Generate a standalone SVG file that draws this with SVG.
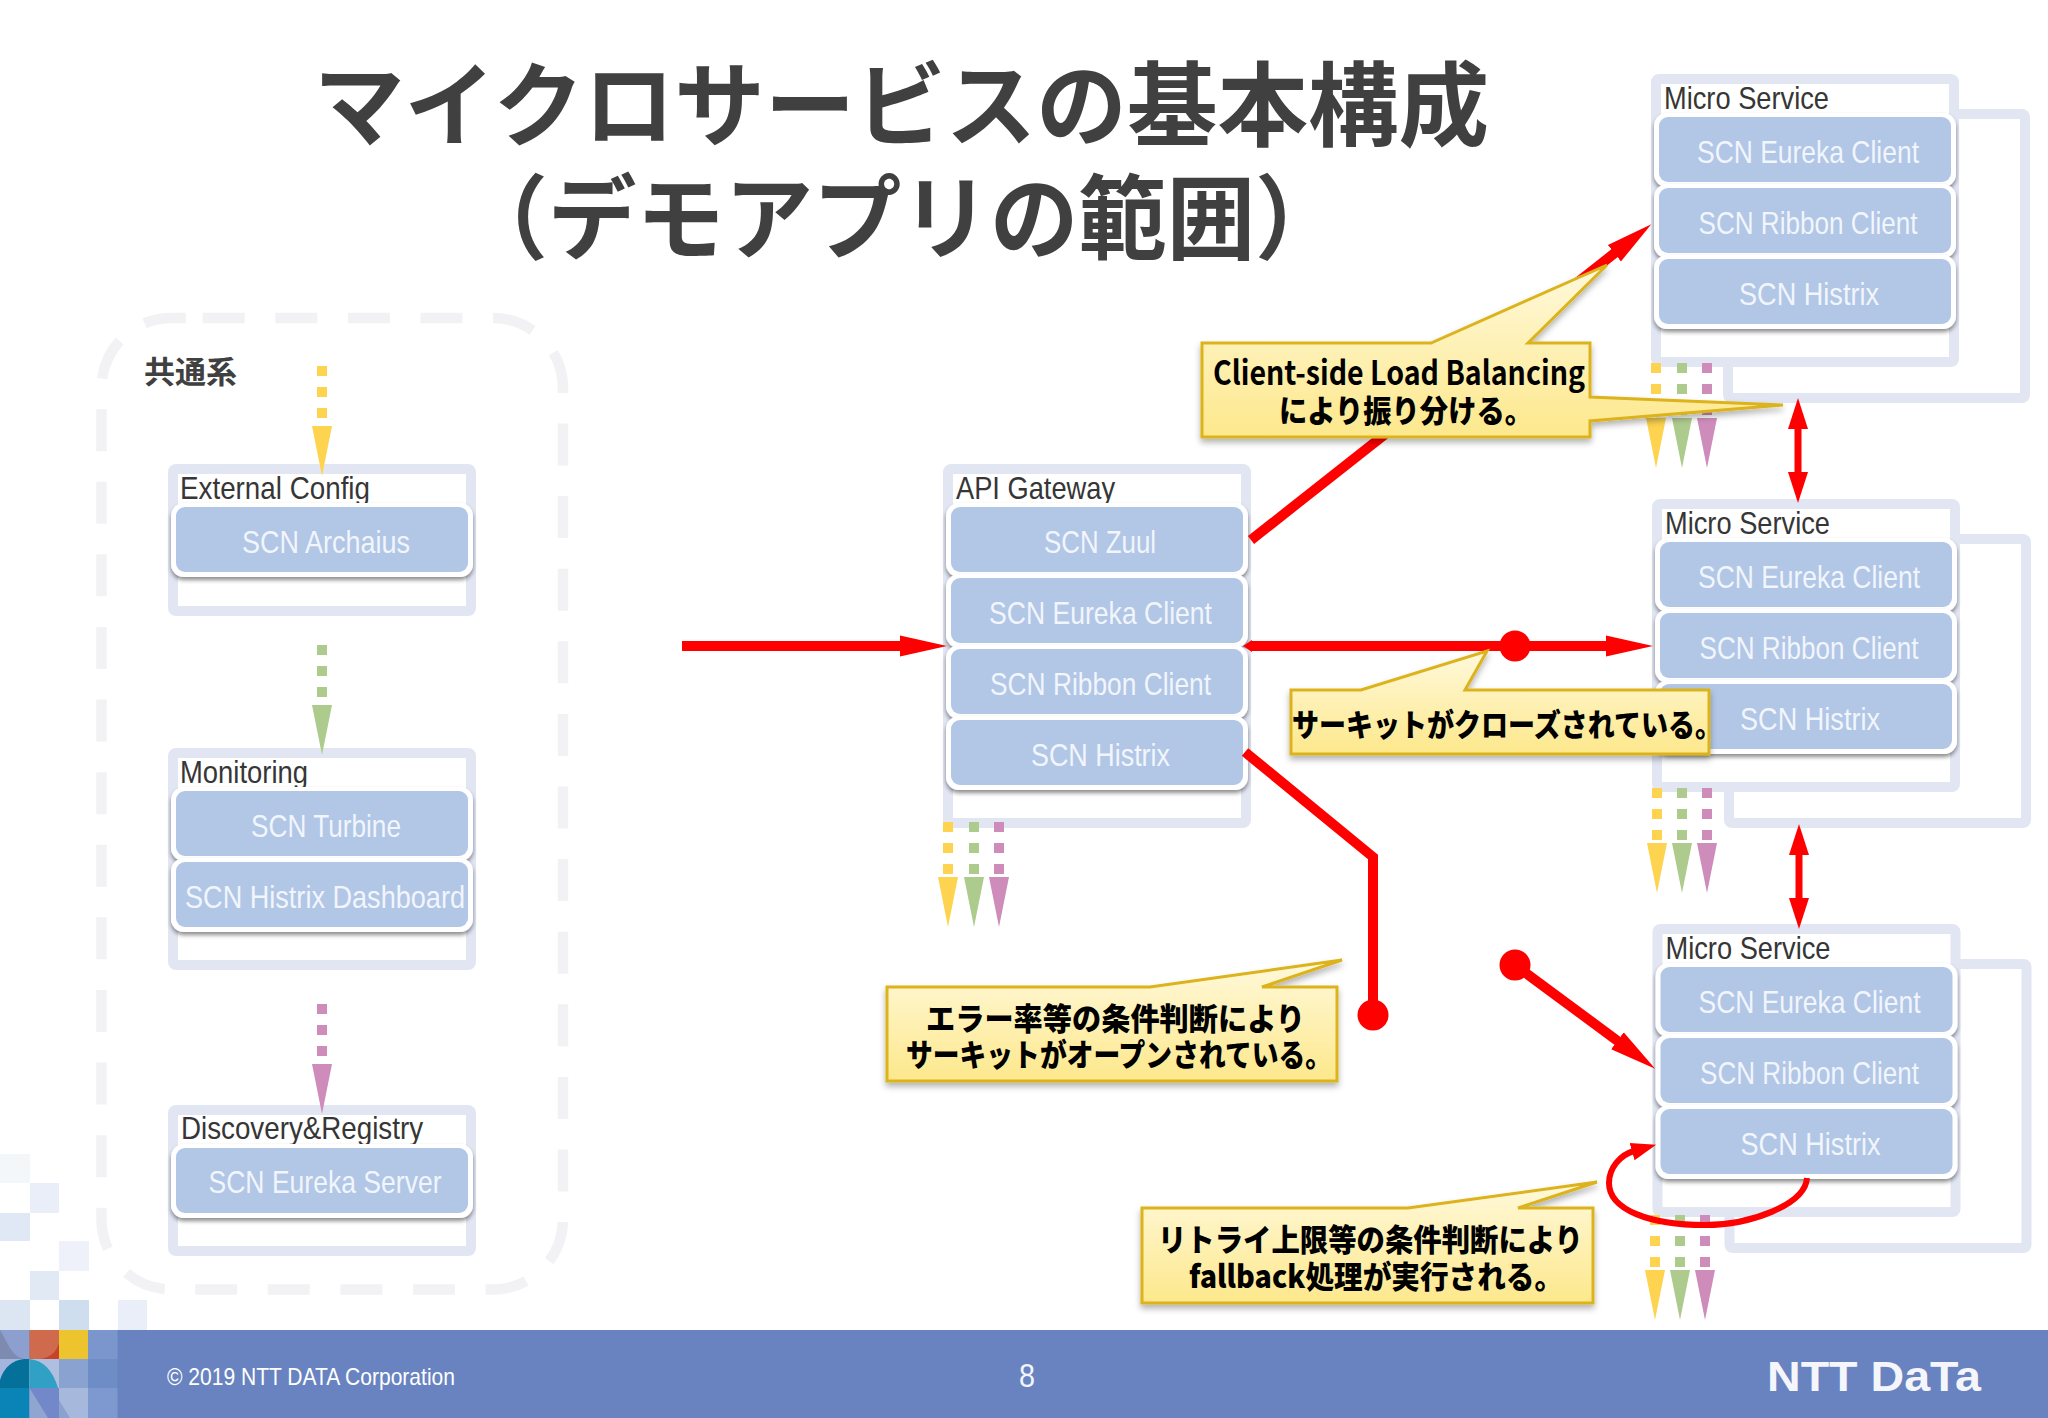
<svg xmlns="http://www.w3.org/2000/svg" width="2048" height="1418" viewBox="0 0 2048 1418">
<style>
.sans{font-family:"Liberation Sans","Noto Sans CJK JP",sans-serif}
.jp{font-family:"Noto Sans CJK JP","Liberation Sans",sans-serif}
.title{font-size:92px;font-weight:700;fill:#404040}
.box{fill:#fff;stroke:#e2e6f3;stroke-width:10}
.rowb{fill:#fff;filter:url(#sh)}
.rowf{fill:#b2c6e6}
.lbl{font-size:32px;fill:#363636}
.rowt{font-size:32px;fill:#f1f5fc}
.call{fill:url(#cg);stroke:#dcb31c;stroke-width:3;stroke-linejoin:miter;filter:url(#csh)}
.ct{font-size:31px;font-weight:900;fill:#000}
.red{fill:none;stroke:#f00;stroke-width:10}
.y{fill:#fdd34f}.g{fill:#aecb8e}.p{fill:#ce8cba}
.m{shape-rendering:crispEdges}
</style>
<defs>
<filter id="sh" x="-5%" y="-10%" width="110%" height="125%"><feDropShadow dx="0" dy="3" stdDeviation="2" flood-color="#000" flood-opacity="0.45"/></filter>
<filter id="csh" x="-5%" y="-10%" width="110%" height="125%"><feDropShadow dx="0" dy="4" stdDeviation="3" flood-color="#000" flood-opacity="0.3"/></filter>
<linearGradient id="cg" gradientUnits="objectBoundingBox" x1="0" y1="0" x2="0" y2="1"><stop offset="0" stop-color="#fff9dc"/><stop offset="1" stop-color="#fde88c"/></linearGradient>
<marker id="ah" markerUnits="userSpaceOnUse" markerWidth="50" markerHeight="24" refX="2" refY="12" orient="auto-start-reverse"><path d="M0 1.5L47 12L0 22.5z" fill="#f00"/></marker>
<marker id="ahs" markerUnits="userSpaceOnUse" markerWidth="34" markerHeight="24" refX="2" refY="12" orient="auto-start-reverse"><path d="M0 2L31 12L0 22z" fill="#f00"/></marker>
<marker id="ahc" markerUnits="userSpaceOnUse" markerWidth="30" markerHeight="22" refX="2" refY="11" orient="auto"><path d="M0 2L25 11L0 20z" fill="#f00"/></marker>
<g id="dy"><rect x="-5" y="0" width="10" height="10"/><rect x="-5" y="21" width="10" height="10"/><rect x="-5" y="42" width="10" height="10"/><path d="M-10 60H10L0 110z"/></g>
<g id="dys"><rect x="-5" y="0" width="10" height="10"/><rect x="-5" y="21" width="10" height="10"/><rect x="-5" y="42" width="10" height="10"/><path d="M-10 55H10L0 105z"/></g>
</defs>
<rect width="2048" height="1418" fill="#fff"/>

<g id="mosaic" class="m">
<rect x="0" y="1154" width="29.5" height="29" fill="#f3f7f9"/>
<rect x="29.5" y="1183" width="29" height="30" fill="#e9eef8"/>
<rect x="0" y="1213" width="29.5" height="28" fill="#dfe8f4"/>
<rect x="58.5" y="1241" width="30" height="30" fill="#eef1f9"/>
<rect x="29.5" y="1271" width="29" height="29" fill="#e1e9f5"/>
<rect x="0" y="1300" width="29.5" height="30" fill="#dce6f3"/>
<rect x="58.5" y="1300" width="30" height="30" fill="#cfdeee"/>
<rect x="117.5" y="1300" width="29.5" height="30" fill="#e9eef8"/>
</g>
<g id="footer">
<rect x="0" y="1330" width="2048" height="88" fill="#6883bf"/>
<rect x="0" y="1330" width="29.5" height="29" fill="#8c9fce"/>
<path d="M0 1330L10 1348Q17 1359 25 1359H0z" fill="#7d8bb0"/>
<rect x="29.5" y="1330" width="29.5" height="29" fill="#d06a4d"/>
<path d="M59 1343V1359H40Q55 1357 59 1343z" fill="#c8422a"/>
<rect x="59" y="1330" width="29" height="29" fill="#eec42e"/>
<rect x="88" y="1330" width="29.5" height="29" fill="#7b96cd"/>
<rect x="0" y="1359" width="29.5" height="29" fill="#a3b5dc"/>
<path d="M0 1388V1380Q6 1361 24 1359H29.5V1388z" fill="#05719b"/>
<rect x="29.5" y="1359" width="29.5" height="29" fill="#aebfe0"/>
<path d="M29.5 1359Q50 1361 58 1388H29.5z" fill="#30a0c5"/>
<rect x="59" y="1359" width="29" height="29" fill="#8aa2cf"/>
<rect x="88" y="1359" width="29.5" height="29" fill="#6e8cc5"/>
<rect x="0" y="1388" width="29.5" height="30" fill="#0a83b6"/>
<rect x="29.5" y="1388" width="29.5" height="30" fill="#7388c9"/>
<path d="M29.5 1388L48 1418H29.5z" fill="#90a6d1"/>
<rect x="59" y="1388" width="29" height="30" fill="#a6b9dd"/>
<path d="M59 1400L70 1418H59z" fill="#8aa2cf"/>
<rect x="88" y="1388" width="29.5" height="30" fill="#7e99d0"/>
<text class="sans" x="167" y="1385" font-size="24" fill="#fff" textLength="288" lengthAdjust="spacingAndGlyphs">© 2019 NTT DATA Corporation</text>
<text class="sans" x="1019" y="1387" font-size="34" fill="#f2f5fb" textLength="16" lengthAdjust="spacingAndGlyphs">8</text>
<text class="sans" x="1767" y="1391" font-size="43" font-weight="700" fill="#f4f6fb" textLength="214" lengthAdjust="spacingAndGlyphs">NTT DaTa</text>
</g>

<g id="title" class="jp title" text-anchor="middle">
<text x="901.5" y="139" textLength="1175" lengthAdjust="spacingAndGlyphs">マイクロサービスの基本構成</text>
<text x="901.5" y="252" textLength="884" lengthAdjust="spacingAndGlyphs">（デモアプリの範囲）</text>
</g>

<g id="common">
<path d="M202.7 318H493A70 70 0 0 1 563 388V1219.5A70 70 0 0 1 493 1289.5H171.5A70 70 0 0 1 101.5 1219.5V388A70 70 0 0 1 171.5 318z" fill="none" stroke="#f2f2f5" stroke-width="10.5" stroke-dasharray="42 30.6"/>
<text class="jp" x="144" y="383" font-size="31" font-weight="700" fill="#404040">共通系</text>
</g>

<g id="external-config">
<rect class="box" x="173" y="469" width="298" height="142" rx="3"/>
<text class="sans lbl" x="180" y="499" textLength="190" lengthAdjust="spacingAndGlyphs">External Config</text>
<rect class="rowb" x="171" y="503" width="302" height="74" rx="13"/><rect class="rowf" x="176" y="507" width="292" height="65" rx="9"/>
<text class="sans rowt" x="242" y="553" textLength="168" lengthAdjust="spacingAndGlyphs">SCN Archaius</text>
</g>
<g id="monitoring">
<rect class="box" x="173" y="753" width="298" height="212" rx="3"/>
<text class="sans lbl" x="180" y="783" textLength="128" lengthAdjust="spacingAndGlyphs">Monitoring</text>
<rect class="rowb" x="171" y="787" width="302" height="74" rx="13"/><rect class="rowf" x="176" y="791" width="292" height="65" rx="9"/>
<text class="sans rowt" x="251" y="837" textLength="150" lengthAdjust="spacingAndGlyphs">SCN Turbine</text>
<rect class="rowb" x="171" y="858" width="302" height="74" rx="13"/><rect class="rowf" x="176" y="862" width="292" height="65" rx="9"/>
<text class="sans rowt" x="185" y="908" textLength="280" lengthAdjust="spacingAndGlyphs">SCN Histrix Dashboard</text>
</g>
<g id="discovery-registry">
<rect class="box" x="173" y="1110" width="298" height="141" rx="3"/>
<text class="sans lbl" x="181" y="1139" textLength="242" lengthAdjust="spacingAndGlyphs">Discovery&amp;Registry</text>
<rect class="rowb" x="171" y="1144" width="302" height="74" rx="13"/><rect class="rowf" x="176" y="1148" width="292" height="65" rx="9"/>
<text class="sans rowt" x="208.5" y="1193" textLength="233" lengthAdjust="spacingAndGlyphs">SCN Eureka Server</text>
</g>
<g id="api-gateway">
<rect class="box" x="948" y="469" width="298" height="354" rx="3"/>
<text class="sans lbl" x="956" y="499" textLength="159" lengthAdjust="spacingAndGlyphs">API Gateway</text>
<rect class="rowb" x="946" y="503" width="302" height="74" rx="13"/><rect class="rowf" x="951" y="507" width="292" height="65" rx="9"/>
<text class="sans rowt" x="1044" y="553" textLength="112" lengthAdjust="spacingAndGlyphs">SCN Zuul</text>
<rect class="rowb" x="946" y="574" width="302" height="74" rx="13"/><rect class="rowf" x="951" y="578" width="292" height="65" rx="9"/>
<text class="sans rowt" x="989" y="624" textLength="223" lengthAdjust="spacingAndGlyphs">SCN Eureka Client</text>
<rect class="rowb" x="946" y="645" width="302" height="74" rx="13"/><rect class="rowf" x="951" y="649" width="292" height="65" rx="9"/>
<text class="sans rowt" x="990" y="695" textLength="221" lengthAdjust="spacingAndGlyphs">SCN Ribbon Client</text>
<rect class="rowb" x="946" y="716" width="302" height="74" rx="13"/><rect class="rowf" x="951" y="720" width="292" height="65" rx="9"/>
<text class="sans rowt" x="1031" y="766" textLength="139" lengthAdjust="spacingAndGlyphs">SCN Histrix</text>
</g>

<g id="micro-service-1">
<rect class="box" x="1728" y="114" width="297" height="284" rx="3"/>
<rect class="box" x="1656" y="79" width="298" height="283" rx="3"/>
<text class="sans lbl" x="1664" y="109" textLength="165" lengthAdjust="spacingAndGlyphs">Micro Service</text>
<rect class="rowb" x="1654" y="113" width="302" height="74" rx="13"/><rect class="rowf" x="1659" y="117" width="292" height="65" rx="9"/>
<text class="sans rowt" x="1697" y="163" textLength="222" lengthAdjust="spacingAndGlyphs">SCN Eureka Client</text>
<rect class="rowb" x="1654" y="184" width="302" height="74" rx="13"/><rect class="rowf" x="1659" y="188" width="292" height="65" rx="9"/>
<text class="sans rowt" x="1698.5" y="234" textLength="219" lengthAdjust="spacingAndGlyphs">SCN Ribbon Client</text>
<rect class="rowb" x="1654" y="255" width="302" height="74" rx="13"/><rect class="rowf" x="1659" y="259" width="292" height="65" rx="9"/>
<text class="sans rowt" x="1739" y="305" textLength="140" lengthAdjust="spacingAndGlyphs">SCN Histrix</text>
</g>
<g id="micro-service-2" transform="translate(1 425)">
<rect class="box" x="1728" y="114" width="297" height="284" rx="3"/>
<rect class="box" x="1656" y="79" width="298" height="283" rx="3"/>
<text class="sans lbl" x="1664" y="109" textLength="165" lengthAdjust="spacingAndGlyphs">Micro Service</text>
<rect class="rowb" x="1654" y="113" width="302" height="74" rx="13"/><rect class="rowf" x="1659" y="117" width="292" height="65" rx="9"/>
<text class="sans rowt" x="1697" y="163" textLength="222" lengthAdjust="spacingAndGlyphs">SCN Eureka Client</text>
<rect class="rowb" x="1654" y="184" width="302" height="74" rx="13"/><rect class="rowf" x="1659" y="188" width="292" height="65" rx="9"/>
<text class="sans rowt" x="1698.5" y="234" textLength="219" lengthAdjust="spacingAndGlyphs">SCN Ribbon Client</text>
<rect class="rowb" x="1654" y="255" width="302" height="74" rx="13"/><rect class="rowf" x="1659" y="259" width="292" height="65" rx="9"/>
<text class="sans rowt" x="1739" y="305" textLength="140" lengthAdjust="spacingAndGlyphs">SCN Histrix</text>
</g>
<g id="micro-service-3" transform="translate(1.5 850)">
<rect class="box" x="1728" y="114" width="297" height="284" rx="3"/>
<rect class="box" x="1656" y="79" width="298" height="283" rx="3"/>
<text class="sans lbl" x="1664" y="109" textLength="165" lengthAdjust="spacingAndGlyphs">Micro Service</text>
<rect class="rowb" x="1654" y="113" width="302" height="74" rx="13"/><rect class="rowf" x="1659" y="117" width="292" height="65" rx="9"/>
<text class="sans rowt" x="1697" y="163" textLength="222" lengthAdjust="spacingAndGlyphs">SCN Eureka Client</text>
<rect class="rowb" x="1654" y="184" width="302" height="74" rx="13"/><rect class="rowf" x="1659" y="188" width="292" height="65" rx="9"/>
<text class="sans rowt" x="1698.5" y="234" textLength="219" lengthAdjust="spacingAndGlyphs">SCN Ribbon Client</text>
<rect class="rowb" x="1654" y="255" width="302" height="74" rx="13"/><rect class="rowf" x="1659" y="259" width="292" height="65" rx="9"/>
<text class="sans rowt" x="1739" y="305" textLength="140" lengthAdjust="spacingAndGlyphs">SCN Histrix</text>
</g>

<g id="dashed-arrows">
<use href="#dy" class="y" x="322" y="366"/>
<use href="#dy" class="g" x="322" y="645"/>
<use href="#dy" class="p" x="322" y="1004"/>
<use href="#dys" class="y" x="948" y="822"/><use href="#dys" class="g" x="974" y="822"/><use href="#dys" class="p" x="999" y="822"/>
<use href="#dys" class="y" x="1656" y="363"/><use href="#dys" class="g" x="1682" y="363"/><use href="#dys" class="p" x="1707" y="363"/>
<use href="#dys" class="y" x="1657" y="788"/><use href="#dys" class="g" x="1682" y="788"/><use href="#dys" class="p" x="1707" y="788"/>
<use href="#dys" class="y" x="1655" y="1215"/><use href="#dys" class="g" x="1680" y="1215"/><use href="#dys" class="p" x="1705" y="1215"/>
</g>

<g id="connectors">
<path class="red" d="M682 646H902" marker-end="url(#ah)"/>
<path class="red" d="M1251 540L1616 252" marker-end="url(#ah)"/>
<path class="red" d="M1250 646H1608" marker-end="url(#ah)"/>
<path d="M1243 646L1252 640V652z" fill="#f00"/>
<circle cx="1515" cy="646" r="15.5" fill="#f00"/>
<path class="red" d="M1245 752L1373 857V1015"/>
<circle cx="1373" cy="1015" r="15.5" fill="#f00"/>
<circle cx="1515" cy="965" r="15.5" fill="#f00"/>
<path class="red" d="M1515 965L1619 1042" marker-end="url(#ah)"/>
<path class="red" style="stroke-width:7" d="M1798 427V474" marker-start="url(#ahs)" marker-end="url(#ahs)"/>
<path class="red" style="stroke-width:7" d="M1799 853V900" marker-start="url(#ahs)" marker-end="url(#ahs)"/>
<path class="red" style="stroke-width:6" d="M1807 1178C1805 1205 1750 1225 1705 1225C1650 1225 1609 1210 1609 1183C1609 1168 1620 1155 1634 1151" marker-end="url(#ahc)"/>
</g>

<g id="callout-client-side">
<path class="call" d="M1202 343H1431L1607 265L1528 343H1590V397L1783 405L1590 421V437H1202z"/>
<text class="jp ct" x="1213" y="385" font-size="33" style="font-size:33px;font-weight:700" textLength="372" lengthAdjust="spacingAndGlyphs">Client-side Load Balancing</text>
<text class="jp ct" x="1279" y="422" textLength="254" lengthAdjust="spacingAndGlyphs">により振り分ける。</text>
</g>
<g id="callout-closed">
<path class="call" d="M1291 690H1361L1487 651L1465 690H1709V754H1291z"/>
<text class="jp ct" x="1292" y="736" textLength="430" lengthAdjust="spacingAndGlyphs">サーキットがクローズされている。</text>
</g>
<g id="callout-open">
<path class="call" d="M887 987H1150L1342 960L1262 987H1337V1081H887z"/>
<text class="jp ct" x="926" y="1030" textLength="379" lengthAdjust="spacingAndGlyphs">エラー率等の条件判断により</text>
<text class="jp ct" x="906" y="1066" textLength="426" lengthAdjust="spacingAndGlyphs">サーキットがオープンされている。</text>
</g>
<g id="callout-fallback">
<path class="call" d="M1142 1208H1408L1597 1182L1518 1208H1593V1303H1142z"/>
<text class="jp ct" x="1158" y="1251" textLength="425" lengthAdjust="spacingAndGlyphs">リトライ上限等の条件判断により</text>
<text class="jp ct" x="1189" y="1288" textLength="374" lengthAdjust="spacingAndGlyphs">fallback処理が実行される。</text>
</g>
</svg>
